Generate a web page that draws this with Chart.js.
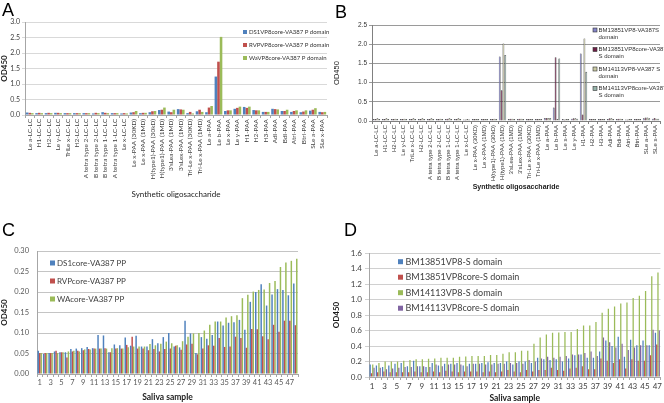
<!DOCTYPE html>
<html>
<head>
<meta charset="utf-8">
<script src="https://cdn.jsdelivr.net/npm/chart.js@4.4.1/dist/chart.umd.min.js"></script>
<style>
  html, body { margin: 0; padding: 0; background: #fff; }
  #wrap { position: relative; width: 664px; height: 403px; overflow: hidden; }
  canvas { position: absolute; }
  .tag { position: absolute; font-family: "Liberation Sans", Arial, sans-serif; font-size: 18px; line-height: 1; color: #000; }
</style>
</head>
<body>
<div id="wrap">
  <canvas id="chartA" width="332" height="200" style="left:0;top:0"></canvas>
  <canvas id="chartB" width="332" height="200" style="left:332px;top:0"></canvas>
  <canvas id="chartC" width="332" height="203" style="left:0;top:200px"></canvas>
  <canvas id="chartD" width="332" height="203" style="left:332px;top:200px"></canvas>
  <div class="tag" style="left:2px;top:1px">A</div>
  <div class="tag" style="left:335px;top:3px">B</div>
  <div class="tag" style="left:2px;top:221px">C</div>
  <div class="tag" style="left:344px;top:221px">D</div>
</div>
<script>
// categories
const glycans = ["Le a-LC-LC", "H1-LC-LC", "H2-LC-LC", "Le y-LC-LC", "TriLe x-LC-LC", "H2-LC-LC",
  "A tetra type 2-LC-LC", "B tetra type 2-LC-LC", "B tetra type 1-LC-LC", "A tetra type 1-LC-LC",
  "Le x-LC-LC", "Le x-PAA (30KD)", "Le x-PAA (1MD)", "H(type1)-PAA (30kD)", "H(type1)-PAA (1MD)",
  "3'sLea-PAA (1MD)", "3'sLex-PAA (1MD)", "Tri-Le x-PAA (30KD)", "Tri-Le x-PAA (1MD)", "Le a-PAA",
  "Le b-PAA", "Le x-PAA", "Le y-PAA", "H1-PAA", "H2-PAA", "H3-PAA", "Adi-PAA", "Bdi-PAA", "Atri-PAA",
  "Btri-PAA", "SLe a-PAA", "SLe x-PAA"];
const samplesC = ["1","2","3","4","5","6","7","8","9","10","11","12","13","14","15","16","17","18","19","20",
  "21","22","23","24","25","26","27","28","29","30","31","32","33","34","35","36","37","38","39","40",
  "41","42","43","44","45","46","47","48"];
const samplesD = ["1","2","3","4","5","6","7","8","9","10","11","12","13","14","15","16","17","18","19","20",
  "21","22","23","24","25","26","27","28","29","30","31","32","33","34","35","36","37","38","39","40",
  "41","42","43","44","45","46","47"];

// series names
const seriesA = ["DS1VP8core-VA387 P domain", "RVPVP8core-VA387 P domain", "WaVP8core-VA387 P domain"];
const seriesB = ["BM13851VP8-VA387S domain", "BM13851VP8core-VA387 S domain", "BM14113VP8-VA387 S domain", "BM14113VP8core-VA387 S domain"];
const seriesC = ["DS1core-VA387 PP", "RVPcore-VA387 PP", "WAcore-VA387 PP"];
const seriesD = ["BM13851VP8-S domain", "BM13851VP8core-S domain", "BM14113VP8-S domain", "BM14113VP8core-S domain"];

// panel A values
const ds1A = [0.08,0.06,0.06,0.07,0.06,0.06,0.06,0.05,0.09,0.06,0.05,0.08,0.06,0.09,0.16,0.11,0.19,0.06,0.12,0.09,1.24,0.13,0.20,0.26,0.16,0.10,0.20,0.13,0.10,0.09,0.14,0.10];
const rvpA = [0.07,0.07,0.07,0.07,0.06,0.06,0.06,0.07,0.07,0.06,0.06,0.09,0.07,0.12,0.17,0.09,0.18,0.10,0.17,0.24,1.72,0.15,0.23,0.23,0.15,0.10,0.19,0.13,0.13,0.11,0.17,0.09];
const waA = [0.06,0.06,0.06,0.06,0.06,0.06,0.06,0.06,0.06,0.06,0.05,0.13,0.07,0.13,0.24,0.17,0.17,0.05,0.10,0.29,2.52,0.15,0.27,0.27,0.15,0.10,0.18,0.17,0.15,0.15,0.22,0.10];

// panel B values
const bm13851B = [0.05,0.05,0.05,0.05,0.05,0.05,0.05,0.05,0.05,0.05,0.04,0.05,0.05,0.05,1.68,0.05,0.05,0.05,0.05,0.08,0.35,0.05,0.06,1.76,0.05,0.05,0.05,0.05,0.04,0.05,0.07,0.06];
const bm13851CoreB = [0.05,0.05,0.05,0.05,0.05,0.05,0.05,0.05,0.06,0.05,0.04,0.05,0.05,0.05,0.80,0.06,0.06,0.05,0.05,0.08,1.66,0.04,0.07,0.17,0.05,0.05,0.07,0.06,0.04,0.05,0.09,0.08];
const bm14113B = [0.07,0.07,0.06,0.06,0.07,0.07,0.07,0.06,0.07,0.07,0.05,0.05,0.05,0.06,2.02,0.06,0.06,0.05,0.05,0.08,0.05,0.05,0.07,2.15,0.05,0.05,0.07,0.06,0.05,0.05,0.09,0.06];
const bm14113CoreB = [0.05,0.05,0.05,0.05,0.05,0.05,0.05,0.05,0.05,0.05,0.04,0.05,0.05,0.05,1.72,0.05,0.05,0.05,0.05,0.08,1.63,0.05,0.06,1.28,0.05,0.05,0.05,0.05,0.05,0.05,0.07,0.06];

// panel C values
const ds1C = [0.057,0.049,0.051,0.055,0.053,0.053,0.061,0.062,0.063,0.066,0.063,0.095,0.094,0.053,0.072,0.070,0.089,0.069,0.093,0.067,0.067,0.085,0.075,0.090,0.100,0.067,0.065,0.130,0.099,0.051,0.090,0.086,0.095,0.128,0.118,0.125,0.126,0.132,0.108,0.176,0.200,0.219,0.167,0.194,0.207,0.205,0.192,0.221];
const rvpC = [0.051,0.051,0.051,0.057,0.053,0.040,0.055,0.057,0.058,0.061,0.062,0.062,0.063,0.053,0.062,0.062,0.071,0.091,0.062,0.062,0.058,0.061,0.055,0.061,0.062,0.069,0.059,0.072,0.074,0.048,0.062,0.070,0.069,0.088,0.066,0.067,0.091,0.088,0.064,0.110,0.109,0.092,0.085,0.120,0.103,0.130,0.130,0.119];
const waC = [0.051,0.051,0.051,0.051,0.053,0.055,0.057,0.055,0.060,0.060,0.062,0.062,0.062,0.063,0.063,0.062,0.065,0.067,0.067,0.067,0.073,0.070,0.074,0.079,0.075,0.070,0.080,0.091,0.099,0.100,0.106,0.120,0.128,0.128,0.138,0.141,0.143,0.185,0.193,0.201,0.205,0.206,0.222,0.227,0.261,0.272,0.276,0.281];

// panel D values
const bm13851D = [0.16,0.15,0.13,0.15,0.17,0.18,0.14,0.21,0.14,0.13,0.18,0.15,0.17,0.17,0.18,0.15,0.17,0.17,0.18,0.19,0.18,0.18,0.20,0.16,0.20,0.20,0.18,0.25,0.23,0.22,0.23,0.20,0.24,0.28,0.29,0.25,0.25,0.33,0.47,0.40,0.52,0.26,0.48,0.41,0.47,0.41,0.57];
const bm13851CoreD = [0.05,0.06,0.07,0.06,0.06,0.06,0.06,0.07,0.06,0.06,0.07,0.06,0.08,0.07,0.06,0.07,0.07,0.07,0.06,0.07,0.06,0.07,0.09,0.07,0.06,0.09,0.07,0.09,0.09,0.12,0.09,0.08,0.11,0.12,0.14,0.10,0.10,0.24,0.21,0.18,0.23,0.11,0.23,0.21,0.21,0.28,0.42];
const bm14113D = [0.16,0.18,0.20,0.20,0.20,0.21,0.22,0.23,0.23,0.235,0.24,0.25,0.25,0.25,0.26,0.265,0.27,0.27,0.27,0.285,0.285,0.30,0.32,0.32,0.34,0.34,0.43,0.51,0.55,0.57,0.575,0.58,0.58,0.62,0.665,0.665,0.71,0.83,0.88,0.91,0.95,0.96,1.02,1.05,1.11,1.30,1.35];
const bm14113CoreD = [0.12,0.12,0.10,0.11,0.12,0.13,0.13,0.14,0.14,0.13,0.16,0.14,0.16,0.16,0.16,0.14,0.17,0.17,0.16,0.16,0.17,0.17,0.18,0.18,0.17,0.22,0.20,0.24,0.26,0.25,0.26,0.27,0.29,0.29,0.31,0.33,0.27,0.51,0.45,0.38,0.43,0.35,0.38,0.41,0.41,0.61,0.60];

const BLUE = '#4F81BD', RED = '#C0504D', GREEN = '#9BBB59', PURPLE = '#8064A2';

// splits a legend label into lines that fit maxWidth
function wrapText(ctx, text, maxWidth) {
    const words = text.split(' ');
    const lines = [];
    let line = '';
    words.forEach(w => {
        const test = line ? line + ' ' + w : w;
        if (line && ctx.measureText(test).width > maxWidth) {
            lines.push(line);
            line = w;
        } else {
            line = test;
        }
    });
    lines.push(line);
    return lines;
}

// legend drawn inside the plot, excel style
const boxLegend = {
    id: 'boxLegend',
    afterDraw(chart, args, opts) {
        if (!opts || !opts.show) return;
        const ctx = chart.ctx;
        ctx.save();
        ctx.font = opts.font;
        ctx.textBaseline = 'middle';
        let y = opts.y;
        chart.data.datasets.forEach(ds => {
            ctx.fillStyle = ds.backgroundColor;
            ctx.fillRect(opts.x, y - opts.box / 2, opts.box, opts.box);
            if (opts.boxBorder) {
                ctx.strokeStyle = opts.boxBorder;
                ctx.lineWidth = 0.6;
                ctx.strokeRect(opts.x, y - opts.box / 2, opts.box, opts.box);
            }
            ctx.fillStyle = opts.color;
            const lines = opts.maxWidth ? wrapText(ctx, ds.label, opts.maxWidth) : [ds.label];
            lines.forEach((ln, i) => ctx.fillText(ln, opts.x + opts.box + opts.gap, y + i * opts.lineH));
            y += opts.step;
        });
        ctx.restore();
    }
};
Chart.register(boxLegend);

function makeBars(labels, values, colors, border) {
    return labels.map((name, i) => ({
        label: name,
        data: values[i],
        backgroundColor: colors[i],
        borderColor: border || colors[i],
        borderWidth: border ? 0.6 : 0,
        categoryPercentage: 0.82,
        barPercentage: 1.0
    }));
}

function panel(id, cats, datasets, s) {
    return new Chart(document.getElementById(id), {
        type: 'bar',
        data: { labels: cats, datasets: datasets },
        options: {
            responsive: false,
            animation: false,
            layout: { padding: s.pad },
            plugins: {
                legend: { display: false },
                tooltip: { enabled: false },
                boxLegend: s.legend
            },
            scales: {
                x: {
                    grid: { drawOnChartArea: false, drawTicks: true, tickLength: 3, color: s.axis },
                    border: { color: s.axis },
                    ticks: {
                        autoSkip: false,
                        maxRotation: s.rot, minRotation: s.rot,
                        padding: s.xPad,
                        color: s.tickColor,
                        font: s.xFont,
                        callback: function (v, i) {
                            if (s.everyOther && i % 2 === 1) return '';
                            return this.getLabelForValue(v);
                        }
                    },
                    title: { display: true, text: s.xTitle, color: '#1a1a1a', font: s.titleFontX, padding: 0 },
                    afterFit: sc => { sc.height = s.xH; }
                },
                y: {
                    min: 0, max: s.yMax,
                    grid: { color: s.grid, drawTicks: s.yTick > 0, tickLength: s.yTick },
                    border: { color: s.axis },
                    ticks: {
                        stepSize: s.yStep,
                        padding: s.yPad,
                        color: s.tickColor,
                        font: s.yFont,
                        callback: v => v.toFixed(s.dec)
                    },
                    title: { display: true, text: 'OD450', color: '#1a1a1a', font: s.titleFontY, padding: { top: 0, bottom: 2 } },
                    afterFit: sc => { sc.width = s.yW; }
                }
            }
        }
    });
}

panel('chartA', glycans, makeBars(seriesA, [ds1A, rvpA, waA], [BLUE, RED, GREEN]), {
    pad: { top: 22, right: 5, bottom: 1, left: 0 },
    yMax: 3, yStep: 0.5, dec: 1, yW: 25, xH: 84, rot: 90, xPad: 1, yPad: 2, yTick: 3,
    axis: '#a6a6a6', grid: '#d9d9d9', tickColor: '#404040',
    xFont: { family: 'Lato', size: 6.5 }, yFont: { family: 'Lato', size: 7 },
    titleFontX: { family: 'Lato', size: 8 }, titleFontY: { family: 'Lato', size: 8, weight: 'bold' },
    xTitle: 'Synthetic oligosaccharide',
    legend: { show: true, x: 243, y: 32, step: 13, box: 4, gap: 2, lineH: 7, font: '6px Lato', color: '#333' }
});

panel('chartB', glycans, makeBars(seriesB, [bm13851B, bm13851CoreB, bm14113B, bm14113CoreB],
    ['#8585c8', '#6e2046', '#c9c9a3', '#96b4ab'], '#333'), {
    pad: { top: 25, right: 4, bottom: 9, left: 0 },
    yMax: 2.5, yStep: 0.5, dec: 1, yW: 40, xH: 70, rot: 90, xPad: 1, yPad: 2, yTick: 3,
    axis: '#808080', grid: '#9a9a9a', tickColor: '#333',
    xFont: { family: 'Liberation Sans', size: 6 }, yFont: { family: 'Liberation Sans', size: 6.5 },
    titleFontX: { family: 'Liberation Sans', size: 7, weight: 'bold' }, titleFontY: { family: 'Liberation Sans', size: 7.5 },
    xTitle: 'Synthetic oligosaccharide',
    legend: { show: true, x: 261, y: 30, step: 19.5, box: 4, gap: 1.5, lineH: 7, maxWidth: 66, boxBorder: '#333', font: '6px "Liberation Sans"', color: '#333' }
});

panel('chartC', samplesC, makeBars(seriesC, [ds1C, rvpC, waC], [BLUE, RED, GREEN]), {
    pad: { top: 51, right: 34, bottom: 1, left: 0 },
    yMax: 0.3, yStep: 0.05, dec: 2, yW: 37, xH: 28, rot: 0, xPad: 1, yPad: 8, yTick: 0, everyOther: true,
    axis: '#a6a6a6', grid: '#c4c4c4', tickColor: '#595959',
    xFont: { family: 'Lato', size: 7.5 }, yFont: { family: 'Lato', size: 7.5 },
    titleFontX: { family: 'Lato', size: 8.5, weight: 'bold' }, titleFontY: { family: 'Lato', size: 8, weight: 'bold' },
    xTitle: 'Saliva sample',
    legend: { show: true, x: 50, y: 63, step: 18, box: 5, gap: 2, lineH: 9, font: '8px Lato', color: '#404040' }
});

panel('chartD', samplesD, makeBars(seriesD, [bm13851D, bm13851CoreD, bm14113D, bm14113CoreD], [BLUE, RED, GREEN, PURPLE]), {
    pad: { top: 53, right: 2, bottom: 0, left: 0 },
    yMax: 1.6, yStep: 0.2, dec: 1, yW: 37, xH: 26, rot: 0, xPad: 2, yPad: 3, yTick: 4, everyOther: true,
    axis: '#a6a6a6', grid: '#d0d0d0', tickColor: '#404040',
    xFont: { family: 'Lato', size: 8 }, yFont: { family: 'Lato', size: 8 },
    titleFontX: { family: 'Lato', size: 8.5, weight: 'bold' }, titleFontY: { family: 'Lato', size: 8, weight: 'bold' },
    xTitle: 'Saliva sample',
    legend: { show: true, x: 66, y: 61.7, step: 15.5, box: 5, gap: 2.5, lineH: 9, font: '9px Lato', color: '#404040' }
});
</script>
</body>
</html>
